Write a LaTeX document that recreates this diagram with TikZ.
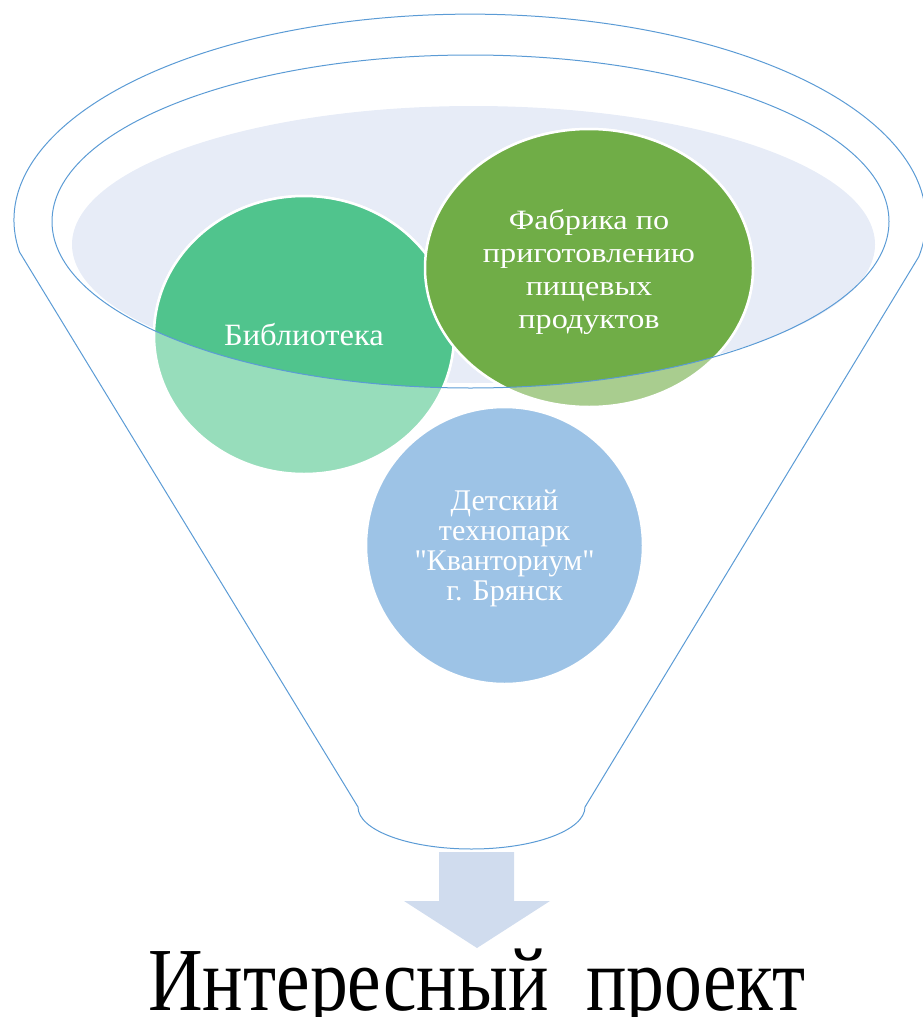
\documentclass[tikz,border=0pt]{standalone}
\usepackage{fontspec}
\setmainfont{Liberation Serif}
\newfontfamily\libfont[FakeStretch=1.05]{Liberation Serif}
\newfontfamily\greenfont[FakeStretch=1.15]{Liberation Serif}
\newfontfamily\bluefont[Ligatures=TeXReset]{Liberation Serif}
\newfontfamily\projfont[FakeStretch=0.84]{Liberation Serif}
\usetikzlibrary{shapes.geometric}
\definecolor{funnelline}{HTML}{5B9BD5}
\definecolor{rimfill}{HTML}{E7ECF7}
\definecolor{libdark}{HTML}{50C48D}
\definecolor{liblight}{HTML}{97DDBB}
\definecolor{greendark}{HTML}{70AD47}
\definecolor{greenlight}{HTML}{A9CD8F}
\definecolor{bluefill}{HTML}{9DC3E6}
\definecolor{arrowfill}{HTML}{D0DCEE}
\tikzset{
  funnel/.style={draw=funnelline, line width=1pt},
  bubble/.style={draw=white, line width=2.5pt},
  label/.style={text=white, align=center, inner sep=0pt},
}
\begin{document}
\begin{tikzpicture}[x=1pt,y=-1pt]
\useasboundingbox (0,0) rectangle (923,1017);
% rim fill
\fill[rimfill] (473.5,244.5) ellipse [x radius=401.5, y radius=138.5];
% light (outside rim) parts of bubbles
\filldraw[bubble, fill=liblight] (304,335) ellipse [x radius=150, y radius=139];
\filldraw[bubble, fill=greenlight] (589,268) ellipse [x radius=164, y radius=139];
% dark parts inside rim
\begin{scope}
\clip (470.5,221.5) ellipse [x radius=418.5, y radius=166.5];
\filldraw[bubble, fill=libdark] (304,335) ellipse [x radius=150, y radius=139];
\filldraw[bubble, fill=greendark] (589,268) ellipse [x radius=164, y radius=139];
\end{scope}
\filldraw[bubble, fill=bluefill] (504.5,545.5) circle [radius=138.5];
% inner rim
\draw[funnel] (470.5,221.5) ellipse [x radius=418.5, y radius=166.5];
% funnel outline
\draw[funnel] (19.5,252) arc[start angle=171.1, end angle=370.3, x radius=456, y radius=206]
  -- (585,807) arc[start angle=0, end angle=180, x radius=113.5, y radius=42] -- cycle;
% arrow
\fill[arrowfill] (439,852) -- (514,852) -- (514,901) -- (550,901) -- (477,948) -- (404,901) -- (439,901) -- cycle;
% labels
\node[label, font=\libfont\fontsize{31}{32}\selectfont] (lib) at (304,335) {Библиотека};
\node[label, font=\greenfont\fontsize{28}{32.7}\selectfont] (fab) at (589,272) {Фабрика по\\приготовлению\\пищевых\\продуктов};
\node[label, font=\bluefont\fontsize{30}{30}\selectfont] (kvant) at (504.5,548) {Детский\\технопарк\\"Кванториум"\\г. Брянск};
\node[inner sep=0pt, anchor=base, font=\projfont\fontsize{90}{90}\selectfont] (proj) at (477,1010) {Интересный\ \ проект};
\end{tikzpicture}
\end{document}
